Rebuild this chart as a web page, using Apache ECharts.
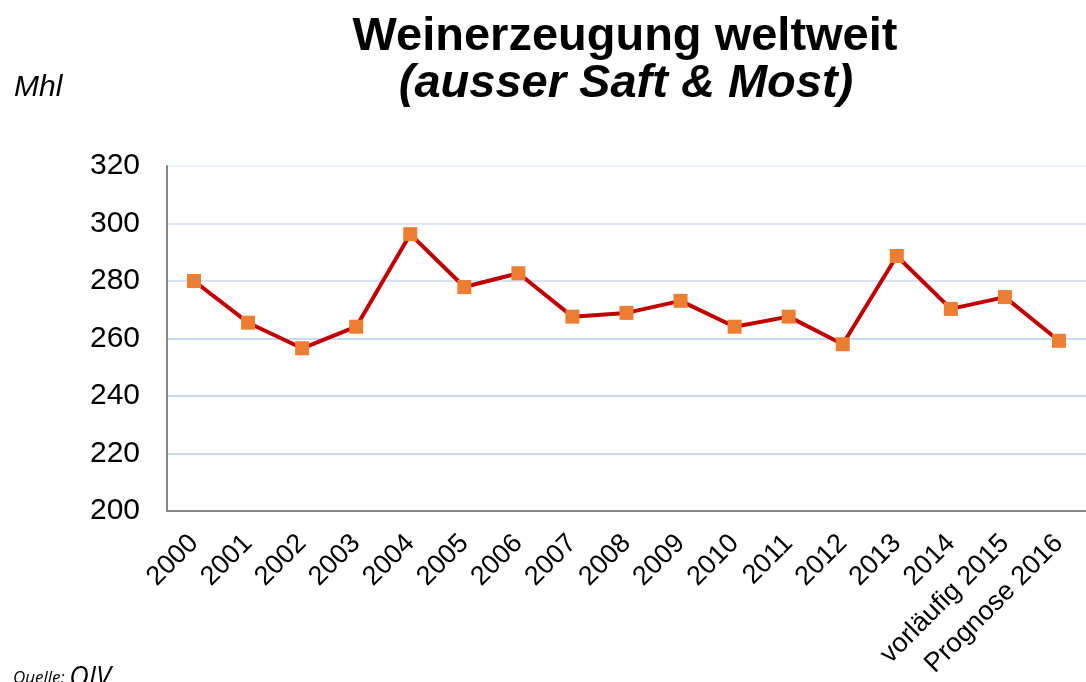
<!DOCTYPE html>
<html>
<head>
<meta charset="utf-8">
<style>
  html, body { margin: 0; padding: 0; background: #fff; }
  #main { width: 1086px; height: 682px; }
</style>
<script src="https://cdn.jsdelivr.net/npm/echarts@6/dist/echarts.min.js"></script>
</head>
<body>
<div id="main"></div>
<script>
// Jahre (x-Achse)
var years = ['2000', '2001', '2002', '2003', '2004', '2005', '2006', '2007', '2008',
  '2009', '2010', '2011', '2012', '2013', '2014', 'vorläufig 2015', 'Prognose 2016'];
// Weinerzeugung in Mhl
var production = [280, 265.5, 256.6, 264.1, 296.3, 277.9, 282.7, 267.6, 268.9,
  273.1, 264.1, 267.6, 258, 288.7, 270.3, 274.4, 259.2];
var yTicks = [200, 320, 20]; // min, max, interval

var font = 'Liberation Sans, Arial, sans-serif';
var myChart = echarts.init(document.getElementById('main'));

myChart.setOption({
  animation: false,
  title: [{
    text: 'Weinerzeugung weltweit',
    left: 620,
    top: 9,
    textAlign: 'center',
    textStyle: { fontFamily: font, fontSize: 47, fontWeight: 'bold', color: '#000' }
  }, {
    text: '(ausser Saft & Most)',
    left: 621,
    top: 56,
    textAlign: 'center',
    textStyle: { fontFamily: font, fontSize: 47, fontWeight: 'bold', fontStyle: 'italic', color: '#000' }
  }, {
    text: 'Mhl',
    left: 9,
    top: 68,
    textStyle: { fontFamily: font, fontSize: 30, fontStyle: 'italic', fontWeight: 'normal', color: '#000' }
  }, {
    text: '{a|Quelle: }{b|OIV}',
    left: 8,
    top: 660,
    textStyle: {
      fontWeight: 'normal',
      rich: {
        a: { fontFamily: 'Open Sans, sans-serif', fontSize: 17, fontStyle: 'italic', fontWeight: 'normal', color: '#000' },
        b: { fontFamily: 'Open Sans, sans-serif', fontSize: 27, fontStyle: 'italic', fontWeight: 'normal', color: '#000' }
      }
    }
  }],
  grid: {
    left: 167,
    top: 166,
    width: 926,
    height: 345,
    containLabel: false
  },
  xAxis: {
    type: 'category',
    data: years,
    boundaryGap: true,
    axisLine: { lineStyle: { color: '#868686', width: 2 } },
    axisTick: { show: false },
    axisLabel: {
      rotate: 45,
      interval: 0,
      margin: 28,
      fontFamily: font,
      fontSize: 27,
      color: '#000'
    }
  },
  yAxis: {
    type: 'value',
    min: yTicks[0],
    max: yTicks[1],
    interval: yTicks[2],
    axisLine: { show: true, lineStyle: { color: '#868686', width: 2 } },
    axisTick: { show: false },
    axisLabel: { fontFamily: font, fontSize: 30, color: '#000', margin: 27 },
    splitLine: {
      lineStyle: {
        color: ['#c6daf0', '#c6daf0', '#c6daf0', '#c6daf0', '#d3e2f3', '#dfe9f6', '#eef4fb'],
        width: 2
      }
    }
  },
  series: [{
    type: 'line',
    data: production,
    symbol: 'rect',
    symbolSize: 14,
    itemStyle: { color: '#ed7d31' },
    lineStyle: { color: '#c00000', width: 4 }
  }]
});
</script>
</body>
</html>
